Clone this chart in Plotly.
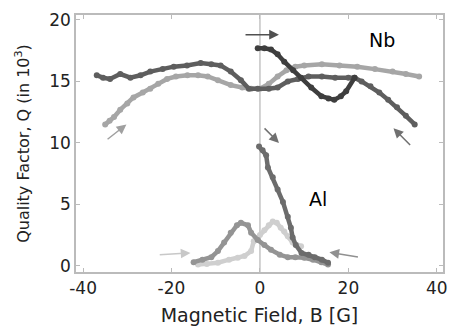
import plotly.graph_objects as go

# Nb traces (B in G, Q in 10^3)
nb_light_b = [-35, -34, -33, -31.6, -30, -28.6, -26.5, -24.8, -23, -21, -19, -16.4, -14, -11.8, -9.5, -6.6, -4, -2, 0, 2, 4, 6, 8, 10, 14, 18, 22, 26, 30, 33, 36]
nb_light_q = [11.5, 11.8, 12.1, 12.7, 13.2, 13.7, 14.1, 14.4, 14.8, 15.2, 15.4, 15.5, 15.5, 15.4, 15.1, 14.7, 14.5, 14.4, 14.4, 14.8, 15.4, 15.9, 16.2, 16.3, 16.4, 16.3, 16.2, 16.0, 15.8, 15.6, 15.4]

nb_dark_b = [-36.9, -35.5, -33.9, -31.6, -29.3, -27, -24.8, -22, -19.5, -16.5, -13.4, -11, -8.9, -6.6, -4.3, -2.5, -0.5, 2, 4, 6.3, 8.6, 11, 14, 17, 20, 21.4, 23, 25, 27, 29, 31, 33, 35]
nb_dark_q = [15.5, 15.3, 15.2, 15.6, 15.3, 15.5, 15.8, 16.0, 16.2, 16.3, 16.5, 16.4, 16.3, 15.8, 15.1, 14.4, 14.4, 14.4, 14.5, 15.0, 15.2, 15.4, 15.4, 15.3, 15.3, 15.3, 15.0, 14.6, 14.1, 13.5, 12.9, 12.2, 11.5]

nb_first_b = [-0.5, 1, 2.5, 4, 5.5, 7.5, 9.3, 11.6, 13.9, 15.5, 16.8, 18.3, 19.5, 21.4]
nb_first_q = [17.7, 17.7, 17.6, 17.2, 16.6, 15.9, 15.3, 14.5, 13.8, 13.6, 13.5, 13.8, 14.2, 15.3]

# Al traces
al_fall_b = [-0.2, 0.6, 1.4, 1.8, 2.9, 4.0, 5.2, 6.3, 7.0, 7.4, 8.1, 9.4, 11, 12.4, 14, 15.4]
al_fall_q = [9.7, 9.4, 9.0, 8.0, 7.2, 6.2, 5.2, 4.0, 3.1, 2.3, 1.7, 1.05, 0.9, 0.7, 0.5, 0.25]

al_mid_b = [-15, -13, -11, -9.5, -8.1, -6.6, -5.2, -4.3, -2.7, -2, -0.5, 1, 2.5, 4.5, 6.3, 8, 10, 12, 13.9, 15.4]
al_mid_q = [0.3, 0.5, 0.7, 1.2, 1.9, 2.7, 3.3, 3.5, 3.3, 2.7, 2.1, 1.7, 1.3, 0.9, 0.7, 0.7, 0.65, 0.5, 0.3, 0.1]

al_light_b = [-14, -12, -9.5, -7, -5, -3.5, -2, -1.4, 0, 1, 2, 2.9, 3.8, 4.7, 5.5, 6.3, 7.4, 8.3, 9.3]
al_light_q = [0.1, 0.15, 0.25, 0.5, 0.65, 0.8, 1.2, 2.0, 2.5, 2.9, 3.3, 3.6, 3.5, 3.1, 2.8, 2.4, 1.9, 1.7, 1.6]

x_ticks = [-40, -20, 0, 20, 40]
x_ticktext = ['-40', '-20', '0', '20', '40']
y_ticks = [0, 5, 10, 15, 20]

FONT = 'DejaVu Sans'
fig = go.Figure()

def add(b, q, color):
    fig.add_trace(go.Scatter(x=b, y=q, mode='lines+markers',
                             line=dict(color=color, width=4.5),
                             marker=dict(color=color, size=6),
                             showlegend=False, hoverinfo='skip'))

# zero line
fig.add_trace(go.Scatter(x=[0, 0], y=[-0.5, 20.4], mode='lines',
                         line=dict(color='#c4c4c4', width=1.5),
                         showlegend=False, hoverinfo='skip'))

add(nb_light_b, nb_light_q, '#a6a6a6')
add(nb_dark_b, nb_dark_q, '#5e5e5e')
add(nb_first_b, nb_first_q, '#3e3e3e')
add(al_light_b, al_light_q, '#cfcfcf')
add(al_mid_b, al_mid_q, '#949494')
add(al_fall_b, al_fall_q, '#6c6c6c')

# arrows: (tail_b, tail_q, head_b, head_q, color)
arrows = [(-3.6, 18.8, 4.3, 18.8, '#505050'),
          (-34.8, 10.2, -30.2, 11.5, '#a0a0a0'),
          (34.3, 9.7, 30.2, 11.2, '#707070'),
          (0.7, 11.3, 4.3, 10.0, '#707070'),
          (-23, 0.9, -15.7, 1.05, '#c8c8c8'),
          (22.5, 0.7, 15.7, 1.1, '#909090')]
for tb, tq, hb, hq, c in arrows:
    fig.add_annotation(x=hb, y=hq, ax=tb, ay=tq, xref='x', yref='y',
                       axref='x', ayref='y', showarrow=True, text='',
                       arrowhead=2, arrowsize=1.3, arrowwidth=1.5, arrowcolor=c)

fig.add_annotation(x=27.7, y=18.4, text='Nb', showarrow=False,
                   font=dict(family=FONT, size=19, color='black'))
fig.add_annotation(x=13.2, y=5.4, text='Al', showarrow=False,
                   font=dict(family=FONT, size=19, color='black'))

fig.update_xaxes(range=[-41.6, 41.4], tickvals=x_ticks, ticktext=x_ticktext,
                 ticks='inside', ticklen=4, automargin=False,
                 tickcolor='#bbbbbb', showgrid=False, zeroline=False,
                 showline=True, linecolor='#bbbbbb', linewidth=1.5, mirror='ticks',
                 tickfont=dict(family=FONT, size=17, color='#222'),
                 title=dict(text='Magnetic Field, B [G]',
                            font=dict(family=FONT, size=19, color='#222'),
                            standoff=12))
fig.update_yaxes(range=[-0.5, 20.4], tickvals=y_ticks,
                 ticks='inside', ticklen=4, automargin=False,
                 tickcolor='#bbbbbb', showgrid=False, zeroline=False,
                 showline=True, linecolor='#bbbbbb', linewidth=1.5, mirror='ticks',
                 tickfont=dict(family=FONT, size=17, color='#222'),
                 title=dict(text='Quality Factor, Q (in 10<sup>3</sup>)',
                            font=dict(family=FONT, size=16, color='#222'), standoff=16))

# page body has an 8px margin, so the figure is a bit smaller than the window
fig.update_layout(width=449, height=321, margin=dict(l=68, r=14, t=7, b=57),
                  paper_bgcolor='white', plot_bgcolor='white',
                  font=dict(family=FONT))

fig.write_html("out.html")
